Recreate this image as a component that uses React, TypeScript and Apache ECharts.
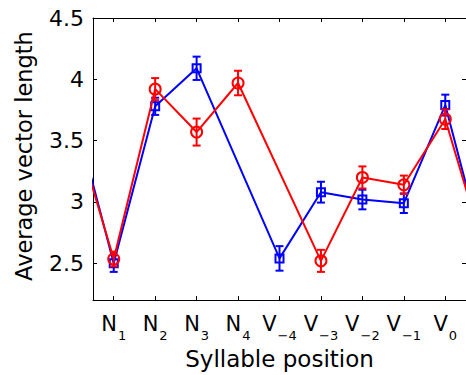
import React, { useEffect, useRef } from "react";
import * as echarts from "echarts";

const labelBase = ["N", "N", "N", "N", "V", "V", "V", "V", "V"];
const labelSub = ["1", "2", "3", "4", "\u22124", "\u22123", "\u22122", "\u22121", "0"];
const blueMean: (number | null)[] = [2.5, 3.78, 4.09, null, 2.54, 3.08, 3.02, 2.99, 3.79];
const blueErr: (number | null)[] = [0.07, 0.07, 0.095, null, 0.1, 0.085, 0.08, 0.08, 0.085];
const redMean: (number | null)[] = [2.535, 3.92, 3.57, 3.97, null, 2.52, 3.2, 3.14, 3.675];
const redErr: (number | null)[] = [0.06, 0.09, 0.11, 0.1, null, 0.09, 0.09, 0.075, 0.08];
const yTicks = [2.5, 3, 3.5, 4, 4.5];
const xTicks = [1, 2, 3, 4, 5, 6, 7, 8, 9];

const FONT = "DejaVu Sans";
const BLUE = "#0000ff";
const RED = "#ff0000";

function lineData(means: (number | null)[]) {
  const n = means.length;
  const pts: any[] = [];
  // circular wrap: previous cycle's last point and next cycle's first point
  pts.push({ value: [0, means[n - 1]], symbol: "none" });
  means.forEach((m, i) => {
    if (m !== null) pts.push([i + 1, m]);
  });
  pts.push({ value: [n + 1, means[0]], symbol: "none" });
  return pts;
}

function errData(means: (number | null)[], errs: (number | null)[]) {
  const out: number[][] = [];
  means.forEach((m, i) => {
    if (m !== null && errs[i] !== null) out.push([i + 1, m, errs[i] as number]);
  });
  return out;
}

function errSeries(means: (number | null)[], errs: (number | null)[], color: string, z: number) {
  return {
    type: "custom",
    z,
    data: errData(means, errs),
    encode: { x: 0, y: 1 },
    renderItem: (params: any, api: any) => {
      const x = api.value(0);
      const y = api.value(1);
      const e = api.value(2);
      const top = api.coord([x, y + e]);
      const bot = api.coord([x, y - e]);
      const hw = 4;
      const st = { stroke: color, lineWidth: 2 };
      return {
        type: "group",
        children: [
          { type: "line", shape: { x1: top[0], y1: top[1], x2: bot[0], y2: bot[1] }, style: st },
          { type: "line", shape: { x1: top[0] - hw, y1: top[1], x2: top[0] + hw, y2: top[1] }, style: st },
          { type: "line", shape: { x1: bot[0] - hw, y1: bot[1], x2: bot[0] + hw, y2: bot[1] }, style: st },
        ],
      };
    },
  };
}

function lineSeries(means: (number | null)[], color: string, symbol: string, size: number, z: number) {
  return {
    type: "line",
    z,
    data: lineData(means),
    connectNulls: true,
    clip: true,
    symbol,
    symbolSize: size,
    showAllSymbol: true,
    lineStyle: { color, width: 2 },
    itemStyle: { color: "rgba(255,255,255,0)", borderColor: color, borderWidth: 2 },
  };
}

export default function App() {
  const ref = useRef<HTMLDivElement>(null);
  useEffect(() => {
    if (!ref.current) return;
    const chart = echarts.init(ref.current, null, { renderer: "svg" });
    const axisLine = { show: true, lineStyle: { color: "#000", width: 1 } };
    chart.setOption({
      animation: false,
      backgroundColor: "#fff",
      grid: { left: 93, top: 18, width: 375, height: 285, containLabel: false },
      xAxis: [
        {
          type: "value",
          position: "bottom",
          min: 0.5,
          max: 9.5,
          axisLine,
          splitLine: { show: false },
          axisTick: { show: true, inside: true, length: 4, customValues: xTicks, lineStyle: { color: "#000" } },
          axisLabel: {
            show: true,
            customValues: xTicks,
            margin: 13,
            formatter: (v: number) => `{m|${labelBase[v - 1]}}{s|${labelSub[v - 1]}}`,
            rich: {
              m: { fontFamily: FONT, fontSize: 21, color: "#000", lineHeight: 22, verticalAlign: "top" },
              s: { fontFamily: FONT, fontSize: 13, color: "#000", lineHeight: 13, verticalAlign: "top", padding: [16, 0, 0, 1] },
            },
          },
          name: "Syllable position",
          nameLocation: "middle",
          nameGap: 43,
          nameTextStyle: { fontFamily: FONT, fontSize: 23, color: "#000" },
        },
        {
          type: "value",
          position: "top",
          min: 0.5,
          max: 9.5,
          axisLine,
          splitLine: { show: false },
          axisTick: { show: true, inside: true, length: 4, customValues: xTicks, lineStyle: { color: "#000" } },
          axisLabel: { show: false },
        },
      ],
      yAxis: [
        {
          type: "value",
          position: "left",
          min: 2.2,
          max: 4.5,
          axisLine,
          splitLine: { show: false },
          axisTick: { show: true, inside: true, length: 4, customValues: yTicks, lineStyle: { color: "#000" } },
          axisLabel: {
            show: true,
            customValues: yTicks,
            margin: 9,
            fontFamily: FONT,
            fontSize: 22,
            color: "#000",
          },
          name: "Average vector length",
          nameLocation: "middle",
          nameGap: 58,
          nameTextStyle: { fontFamily: FONT, fontSize: 22.5, color: "#000", padding: [0, 0, 0, 6] },
        },
        {
          type: "value",
          position: "right",
          min: 2.2,
          max: 4.5,
          axisLine,
          splitLine: { show: false },
          axisTick: { show: true, inside: true, length: 4, customValues: yTicks, lineStyle: { color: "#000" } },
          axisLabel: { show: false },
        },
      ],
      series: [
        errSeries(blueMean, blueErr, BLUE, 2),
        lineSeries(blueMean, BLUE, "rect", 8, 3),
        errSeries(redMean, redErr, RED, 4),
        lineSeries(redMean, RED, "circle", 11, 5),
      ],
    });
    return () => chart.dispose();
  }, []);
  return <div ref={ref} style={{ position: "fixed", left: 0, top: 0, width: 466, height: 375 }} />;
}
